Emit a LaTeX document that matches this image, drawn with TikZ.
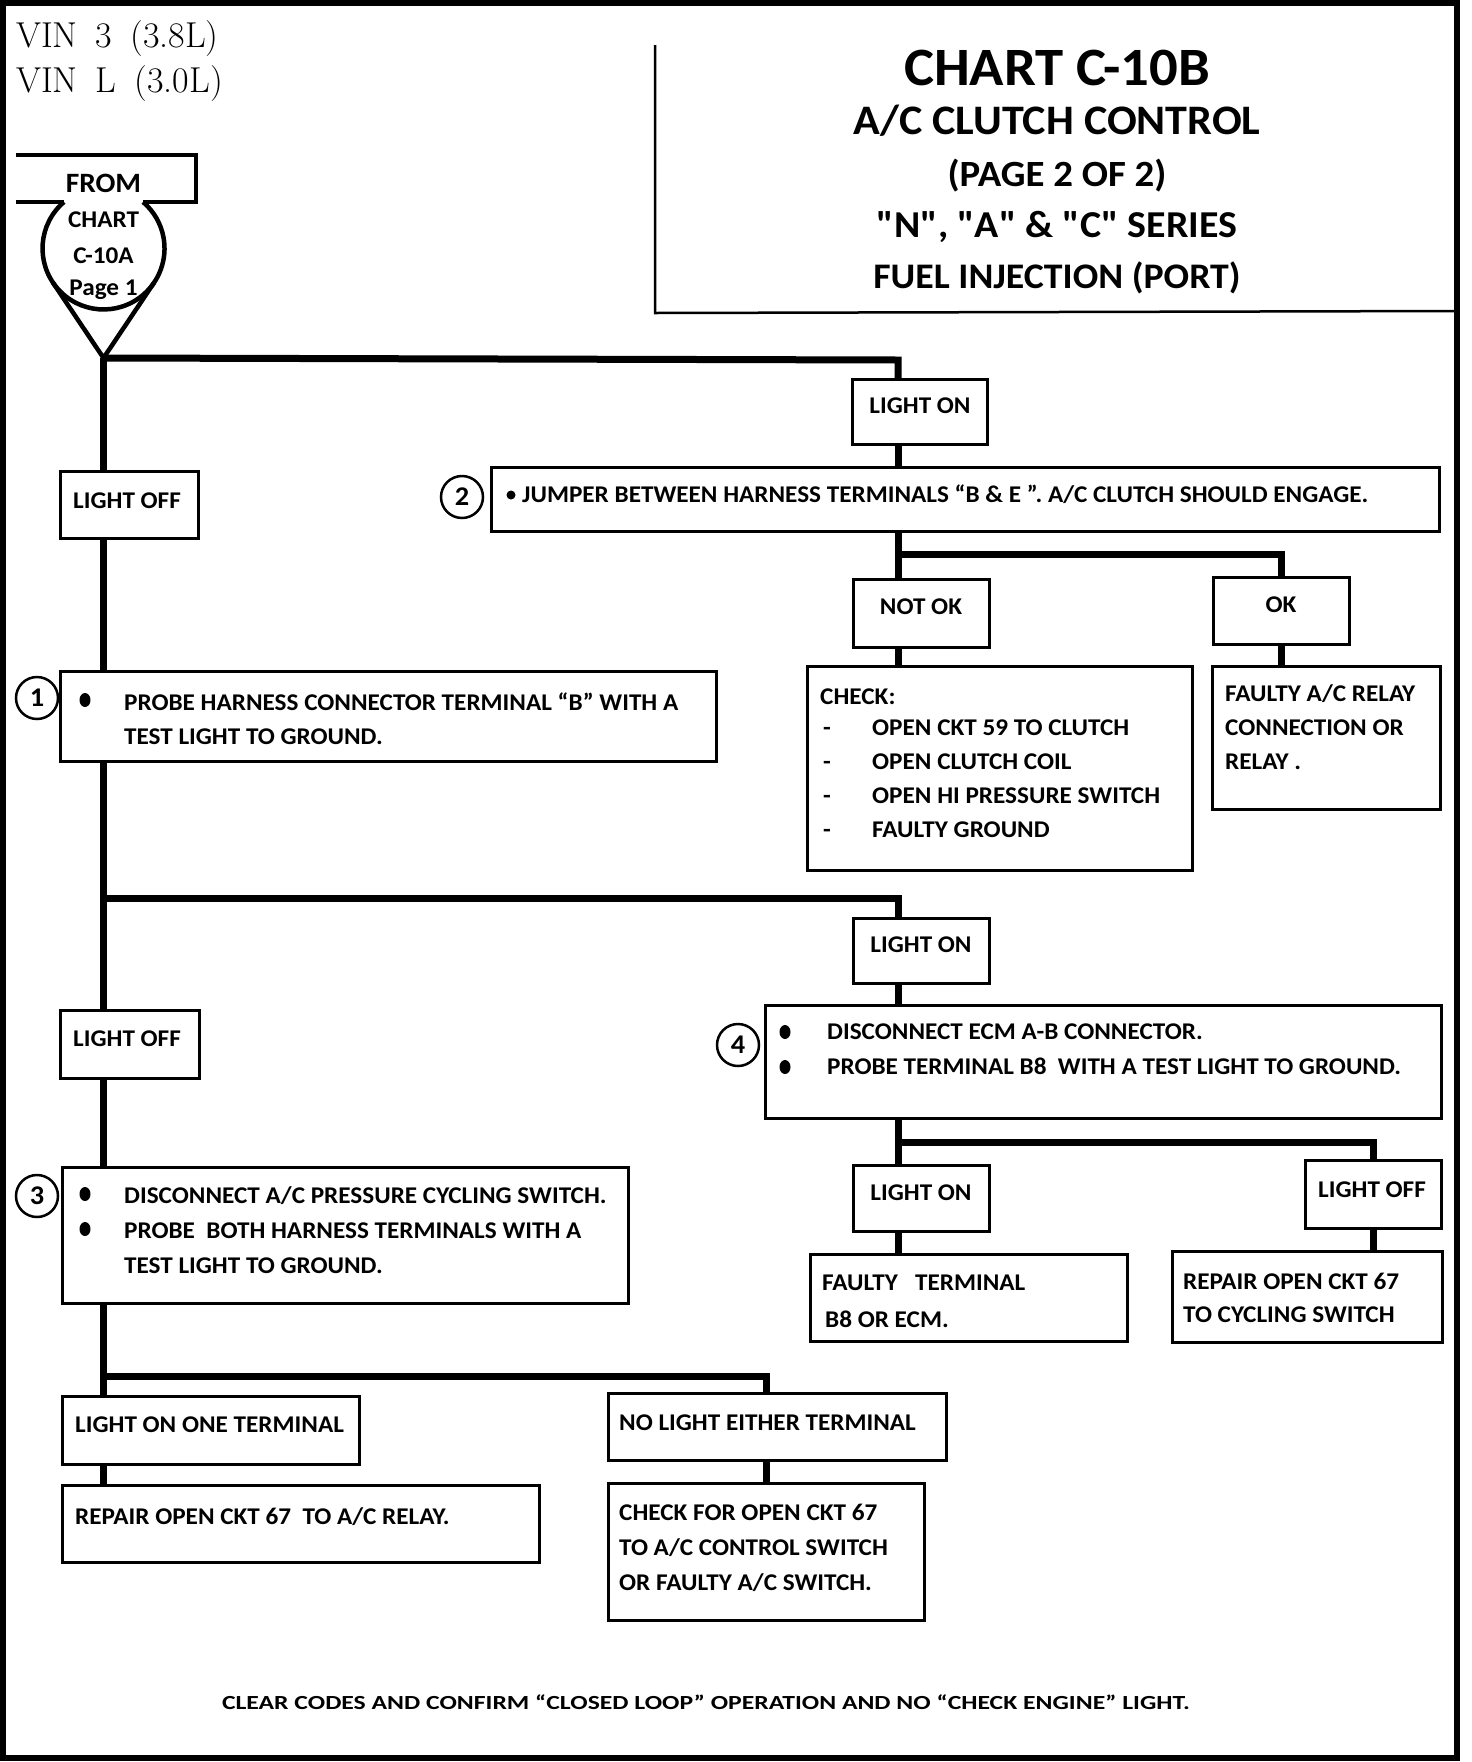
\documentclass[tikz,border=0pt]{standalone}
\usepackage{fontspec}
\usetikzlibrary{calc}
\newfontfamily\chartfont{Carlito}[FakeStretch=1.05]

\begin{document}
\begin{tikzpicture}[x=1pt,y=-1pt,
	box/.style 2 args={draw,line width=3pt,fill=white,anchor=north west,inner sep=0pt,outer sep=0pt,minimum width=#1pt,minimum height=#2pt},
	link/.style={line width=7pt},
	txt/.style={font=\chartfont\bfseries\fontsize{24}{28}\selectfont,inner sep=0pt,text height=15.5pt,text depth=0pt},
	num/.style={draw,circle,line width=2.5pt,minimum size=42pt,inner sep=0pt,font=\chartfont\bfseries\fontsize{27}{30}\selectfont},
	ttl/.style={font=\chartfont\bfseries\fontsize{#1}{#1}\selectfont,inner sep=0pt}]
	\useasboundingbox (0,0) rectangle (1472,1762);
	\draw[line width=6pt] (3,3) rectangle (1457,1758);
	% heading
	\node[font=\fontsize{36}{40}\selectfont,anchor=west,inner sep=0pt] (vin3) at (16,39) {VIN\hspace{0.5em}3\hspace{0.5em}(3.8L)};
	\node[font=\fontsize{36}{40}\selectfont,anchor=west,inner sep=0pt] (vinl) at (16,84) {VIN\hspace{0.5em}L\hspace{0.5em}(3.0L)};
	\draw[line width=2.5pt] (655,45) -- (655,313) -- (1458,311);
	\node[ttl=54] (t1) at (1057,68) {CHART C-10B};
	\node[ttl=42] (t2) at (1057,121) {A/C CLUTCH CONTROL};
	\node[ttl=37] (t3) at (1057,176) {(PAGE 2 OF 2)};
	\node[ttl=38] (t4) at (1057,227) {"N", "A" \& "C" SERIES};
	\node[ttl=36] (t5) at (1057,278) {FUEL INJECTION (PORT)};
	% entry symbol
	\coordinate (apex) at (103.5,358);
	\node[circle,minimum size=122pt,inner sep=0pt,outer sep=0pt] (fromc) at (103.5,248.5) {};
	\draw[line width=4.5pt] (64,202) -- (16,202) (16,155) -- (196,155) -- (196,202) -- (143,202);
	\draw[line width=4.5pt] (64,202) arc[start angle=229.6,end angle=-49.6,radius=61];
	\draw[line width=4.5pt] (tangent cs:node=fromc,point={(apex)},solution=1) -- (apex) -- (tangent cs:node=fromc,point={(apex)},solution=2);
	\node[txt,font=\chartfont\bfseries\fontsize{28}{30}\selectfont,text height=18pt] (from) at (103.5,183) {FROM};
	\node[txt] (fc1) at (103.5,220) {CHART};
	\node[txt] (fc2) at (103.5,256) {C-10A};
	\node[txt] (fc3) at (103.5,288) {Page 1};
	% boxes
	\node[box={135}{65}] (lon1) at (852,379) {};
	\node[box={948}{64}] (step2) at (491,467) {};
	\node[box={136}{68}] (notok) at (853,579) {};
	\node[box={136}{67}] (ok) at (1213,577) {};
	\node[box={385}{204}] (chk) at (807,666) {};
	\node[box={228}{143}] (relay) at (1212,666) {};
	\node[box={138}{67}] (loff1) at (60,471) {};
	\node[box={656}{90}] (step1) at (60,671) {};
	\node[box={136}{65}] (lon2) at (853,918) {};
	\node[box={676}{113}] (step4) at (765,1005) {};
	\node[box={136}{66}] (lon3) at (853,1165) {};
	\node[box={136}{68}] (loff3) at (1305,1160) {};
	\node[box={317}{87}] (faulty) at (810,1254) {};
	\node[box={270}{91}] (repair) at (1172,1251) {};
	\node[box={139}{68}] (loff2) at (60,1010) {};
	\node[box={566}{136}] (step3) at (62,1167) {};
	\node[box={297}{68}] (lone) at (62,1396) {};
	\node[box={338}{67}] (nolight) at (608,1393) {};
	\node[box={477}{77}] (rep67) at (62,1485) {};
	\node[box={316}{137}] (chkfor) at (608,1483) {};
	% branch points
	\coordinate (b1) at (898,360);
	\coordinate (b2) at (898,898);
	\coordinate (b3) at (766,1376);
	\coordinate (b4) at (898,554);
	\coordinate (b4r) at (1281,554);
	\coordinate (b5) at (898,1142);
	\coordinate (b5r) at (1373,1142);
	% connectors
	\draw[link] (apex) -- (apex |- loff1.north);
	\draw[link] (apex) -- (b1) -- (b1 |- lon1.north);
	\draw[link] (lon1.south -| b1) -- (b1 |- step2.north);
	\draw[link] (step2.south -| b1) -- (b4) -- (b4r) -- (b4r |- ok.north);
	\draw[link] (b4) -- (b4 |- notok.north);
	\draw[link] (notok.south -| b1) -- (b1 |- chk.north);
	\draw[link] (ok.south -| b4r) -- (b4r |- relay.north);
	\draw[link] (loff1.south -| apex) -- (apex |- step1.north);
	\draw[link] (step1.south -| apex) -- (apex |- loff2.north);
	\draw[link] (apex |- b2) -- (b2) -- (b2 |- lon2.north);
	\draw[link] (lon2.south -| b2) -- (b2 |- step4.north);
	\draw[link] (step4.south -| b2) -- (b5) -- (b5r) -- (b5r |- loff3.north);
	\draw[link] (b5) -- (b5 |- lon3.north);
	\draw[link] (lon3.south -| b5) -- (b5 |- faulty.north);
	\draw[link] (loff3.south -| b5r) -- (b5r |- repair.north);
	\draw[link] (loff2.south -| apex) -- (apex |- step3.north);
	\draw[link] (step3.south -| apex) -- (apex |- lone.north);
	\draw[link] (apex |- b3) -- (b3) -- (b3 |- nolight.north);
	\draw[link] (lone.south -| apex) -- (apex |- rep67.north);
	\draw[link] (nolight.south -| b3) -- (b3 |- chkfor.north);
	% step numbers
	\node[num] (n1) at (37,698) {1};
	\node[num] (n2) at (462,497) {2};
	\node[num] (n3) at (37,1196) {3};
	\node[num] (n4) at (738,1045) {4};
	% bullets
	\fill (511,495) circle (4.5);
	\foreach \x/\y in {85/700,785/1032,785/1067,85/1194,85/1229}
		\fill (\x,\y) ellipse (5.5 and 7);
	% texts
	\node[txt] (lon1t) at (920,406) {LIGHT ON};
	\node[txt,anchor=west] (step2t) at (522,495) {JUMPER BETWEEN HARNESS TERMINALS “B \& E ”. A/C CLUTCH SHOULD ENGAGE.};
	\node[txt] (notokt) at (921,607) {NOT OK};
	\node[txt] (okt) at (1281,605) {OK};
	\node[txt,anchor=west] (chk0) at (820,697) {CHECK:};
	\foreach \t [count=\i] in {OPEN CKT 59 TO CLUTCH,OPEN CLUTCH COIL,OPEN HI PRESSURE SWITCH,FAULTY GROUND}{
		\node[txt,anchor=west] (chkd\i) at (823,694+34*\i) {-};
		\node[txt,anchor=west] (chk\i) at (872,694+34*\i) {\t};
	}
	\foreach \t [count=\i] in {FAULTY A/C RELAY,CONNECTION OR,RELAY .}
		\node[txt,anchor=west] (relay\i) at (1225,660+34*\i) {\t};
	\node[txt] (loff1t) at (127,501) {LIGHT OFF};
	\node[txt,anchor=west] (step1a) at (124,703) {PROBE HARNESS CONNECTOR TERMINAL “B” WITH A};
	\node[txt,anchor=west] (step1b) at (124,737) {TEST LIGHT TO GROUND.};
	\node[txt] (lon2t) at (921,945) {LIGHT ON};
	\node[txt,anchor=west] (step4a) at (827,1032) {DISCONNECT ECM A-B CONNECTOR.};
	\node[txt,anchor=west] (step4b) at (827,1067) {PROBE TERMINAL B8\ \ WITH A TEST LIGHT TO GROUND.};
	\node[txt] (lon3t) at (921,1193) {LIGHT ON};
	\node[txt] (loff3t) at (1372,1190) {LIGHT OFF};
	\node[txt,anchor=west] (faulty1) at (822,1283) {FAULTY\ \ \ TERMINAL};
	\node[txt,anchor=west] (faulty2) at (825,1320) {B8 OR ECM.};
	\node[txt,anchor=west] (repair1) at (1183,1282) {REPAIR OPEN CKT 67};
	\node[txt,anchor=west] (repair2) at (1183,1315) {TO CYCLING SWITCH};
	\node[txt] (loff2t) at (127,1039) {LIGHT OFF};
	\node[txt,anchor=west] (step3a) at (124,1196) {DISCONNECT A/C PRESSURE CYCLING SWITCH.};
	\node[txt,anchor=west] (step3b) at (124,1231) {PROBE\ \ BOTH HARNESS TERMINALS WITH A};
	\node[txt,anchor=west] (step3c) at (124,1266) {TEST LIGHT TO GROUND.};
	\node[txt,anchor=west] (lonet) at (75,1425) {LIGHT ON ONE TERMINAL};
	\node[txt,anchor=west] (nolightt) at (619,1423) {NO LIGHT EITHER TERMINAL};
	\node[txt,anchor=west] (rep67t) at (75,1517) {REPAIR OPEN CKT 67\ \ TO A/C RELAY.};
	\foreach \t [count=\i] in {CHECK FOR OPEN CKT 67,TO A/C CONTROL SWITCH,OR FAULTY A/C SWITCH.}
		\node[txt,anchor=west] (chkfor\i) at (619,1478+35*\i) {\t};
	% footer
	\node[txt,font=\chartfont\bfseries\fontsize{20}{24}\selectfont,text height=13pt] (foot) at (706,1703) {\resizebox{968pt}{\height}{CLEAR CODES AND CONFIRM “CLOSED LOOP” OPERATION AND NO “CHECK ENGINE” LIGHT.}};
\end{tikzpicture}
\end{document}
